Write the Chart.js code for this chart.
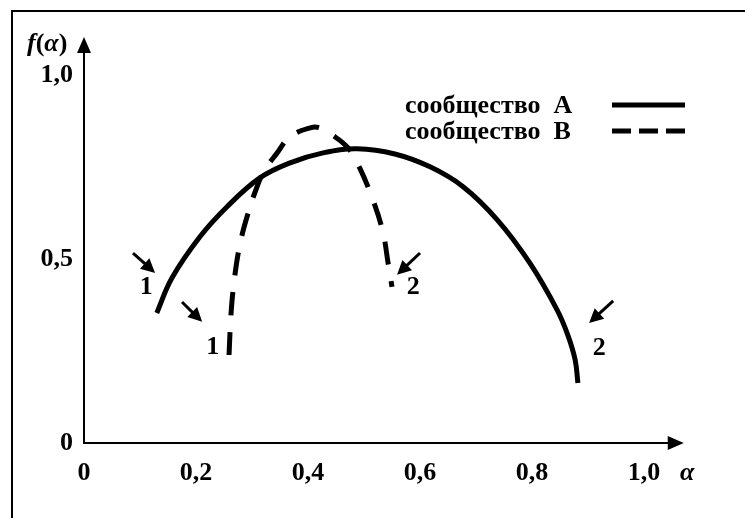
<!DOCTYPE html>
<html>
<head>
<meta charset="utf-8">
<script src="https://cdn.jsdelivr.net/npm/chart.js@4/dist/chart.umd.min.js"></script>
<style>
html,body{margin:0;padding:0;background:#fff;}
canvas{display:block;}
</style>
</head>
<body>
<canvas id="c" width="745" height="518"></canvas>
<script>
// ---- data ----
const seriesNames = ['сообщество  A', 'сообщество  B'];
const alphaA = [0.130,0.157,0.207,0.255,0.314,0.368,0.427,0.488,0.555,0.618,0.677,0.738,0.796,0.845,0.864,0.877,0.882];
const fA     = [0.353,0.448,0.560,0.641,0.720,0.761,0.788,0.799,0.785,0.750,0.696,0.606,0.489,0.361,0.293,0.226,0.163];
const alphaB = [0.259,0.263,0.270,0.279,0.291,0.309,0.323,0.345,0.368,0.404,0.421,0.443,0.470,0.488,0.516,0.534,0.543,0.550];
const fB     = [0.239,0.361,0.462,0.543,0.614,0.696,0.742,0.788,0.832,0.856,0.856,0.837,0.804,0.761,0.660,0.571,0.489,0.424];
const xTickValues = [0, 0.2, 0.4, 0.6, 0.8, 1.0];
const xTickLabels = ['0', '0,2', '0,4', '0,6', '0,8', '1,0'];
const yTickValues = [0, 0.5, 1.0];
const yTickLabels = ['0', '0,5', '1,0'];
// end-point markers of each curve (label, arrow from, arrow to, label position) in data units
const markerLabels = ['1', '1', '2', '2'];
const markerArrowFrom = [[0.0875,0.516],[0.175,0.383],[0.600,0.516],[0.945,0.386]];
const markerArrowTo   = [[0.127,0.462],[0.211,0.329],[0.559,0.457],[0.902,0.326]];
const markerTextAt    = [[0.111,0.424],[0.230,0.261],[0.588,0.424],[0.920,0.258]];

const SERIF = '"Liberation Serif", "Times New Roman", serif';
const FONT_B = 'bold 26px ' + SERIF;

function arrowHead(ctx, x0, y0, x1, y1, len, half) {
  const ang = Math.atan2(y1 - y0, x1 - x0);
  ctx.beginPath();
  ctx.moveTo(x1, y1);
  ctx.lineTo(x1 - len * Math.cos(ang) + half * Math.sin(ang), y1 - len * Math.sin(ang) - half * Math.cos(ang));
  ctx.lineTo(x1 - len * Math.cos(ang) - half * Math.sin(ang), y1 - len * Math.sin(ang) + half * Math.cos(ang));
  ctx.closePath();
  ctx.fill();
}

const decor = {
  id: 'decor',
  afterDraw(chart) {
    const ctx = chart.ctx;
    const xs = chart.scales.x, ys = chart.scales.y;
    ctx.save();
    ctx.strokeStyle = '#000';
    ctx.fillStyle = '#000';
    // frame
    ctx.lineWidth = 2;
    ctx.strokeRect(12, 11, 900, 700);
    // axes
    const x0 = xs.getPixelForValue(0), y0 = ys.getPixelForValue(0);
    const xEnd = xs.getPixelForValue(1.071), yEnd = ys.getPixelForValue(1.103);
    ctx.lineWidth = 2;
    ctx.beginPath();
    ctx.moveTo(x0, y0); ctx.lineTo(xEnd - 10, y0);
    ctx.moveTo(x0, y0 + 1); ctx.lineTo(x0, yEnd + 10);
    ctx.stroke();
    arrowHead(ctx, x0, y0, xEnd, y0, 16, 7);
    arrowHead(ctx, x0, y0, x0, yEnd, 16, 7);
    // axis titles
    ctx.textBaseline = 'middle';
    ctx.textAlign = 'left';
    ctx.font = 'italic bold 26px ' + SERIF;
    ctx.fillText('α', 680, 473);
    let tx = 27;
    const ty = 44;
    const parts = [['f','italic bold 26px '], ['(', 'bold 26px '], ['α','italic bold 26px '], [')', 'bold 26px ']];
    for (const [t, f] of parts) {
      ctx.font = f + SERIF;
      ctx.fillText(t, tx, ty);
      tx += ctx.measureText(t).width;
    }
    // legend
    const ds = chart.data.datasets;
    const legendY = [105, 131];
    ctx.font = FONT_B;
    for (let i = 0; i < ds.length; i++) {
      ctx.fillText(ds[i].label, 405, legendY[i] + 1);
      ctx.lineWidth = 5;
      ctx.setLineDash(ds[i].borderDash ? [19, 8] : []);
      ctx.beginPath();
      ctx.moveTo(612, legendY[i]);
      ctx.lineTo(685, legendY[i]);
      ctx.stroke();
    }
    ctx.setLineDash([]);
    // end-point markers
    ctx.lineWidth = 3;
    ctx.textAlign = 'center';
    for (let i = 0; i < markerLabels.length; i++) {
      const ax = xs.getPixelForValue(markerArrowFrom[i][0]), ay = ys.getPixelForValue(markerArrowFrom[i][1]);
      const bx = xs.getPixelForValue(markerArrowTo[i][0]), by = ys.getPixelForValue(markerArrowTo[i][1]);
      const ang = Math.atan2(by - ay, bx - ax);
      ctx.beginPath();
      ctx.moveTo(ax, ay);
      ctx.lineTo(bx - 10 * Math.cos(ang), by - 10 * Math.sin(ang));
      ctx.stroke();
      arrowHead(ctx, ax, ay, bx, by, 14, 7);
      ctx.fillText(markerLabels[i], xs.getPixelForValue(markerTextAt[i][0]), ys.getPixelForValue(markerTextAt[i][1]));
    }
    ctx.restore();
  }
};

new Chart(document.getElementById('c'), {
  type: 'line',
  data: {
    datasets: [
      {
        label: seriesNames[0],
        data: alphaA.map((a, i) => ({ x: a, y: fA[i] })),
        borderColor: '#000',
        borderWidth: 5,
        pointRadius: 0,
        tension: 0.4,
        fill: false
      },
      {
        label: seriesNames[1],
        data: alphaB.map((a, i) => ({ x: a, y: fB[i] })),
        borderColor: '#000',
        borderWidth: 5,
        borderDash: [23, 17],
        pointRadius: 0,
        tension: 0.4,
        fill: false
      }
    ]
  },
  options: {
    responsive: false,
    animation: false,
    layout: { padding: { left: 0, right: 45, top: 38, bottom: 0 } },
    plugins: { legend: { display: false }, tooltip: { enabled: false } },
    scales: {
      x: {
        type: 'linear', min: 0, max: 1.1,
        afterBuildTicks: s => { s.ticks = xTickValues.map(v => ({ value: v })); },
        afterFit: s => { s.height = 75; },
        grid: { display: false, drawTicks: false },
        border: { display: false },
        ticks: {
          autoSkip: false, maxRotation: 0, padding: 15, color: '#000',
          font: { family: SERIF, size: 26, weight: 'bold' },
          callback: (v, i) => xTickLabels[i]
        }
      },
      y: {
        type: 'linear', min: 0, max: 1.1,
        afterBuildTicks: s => { s.ticks = yTickValues.map(v => ({ value: v })); },
        afterFit: s => { s.width = 84; },
        grid: { display: false, drawTicks: false },
        border: { display: false },
        ticks: {
          autoSkip: false, padding: 11, color: '#000',
          font: { family: SERIF, size: 26, weight: 'bold' },
          callback: (v, i) => yTickLabels[i]
        }
      }
    }
  },
  plugins: [decor]
});
</script>
</body>
</html>
